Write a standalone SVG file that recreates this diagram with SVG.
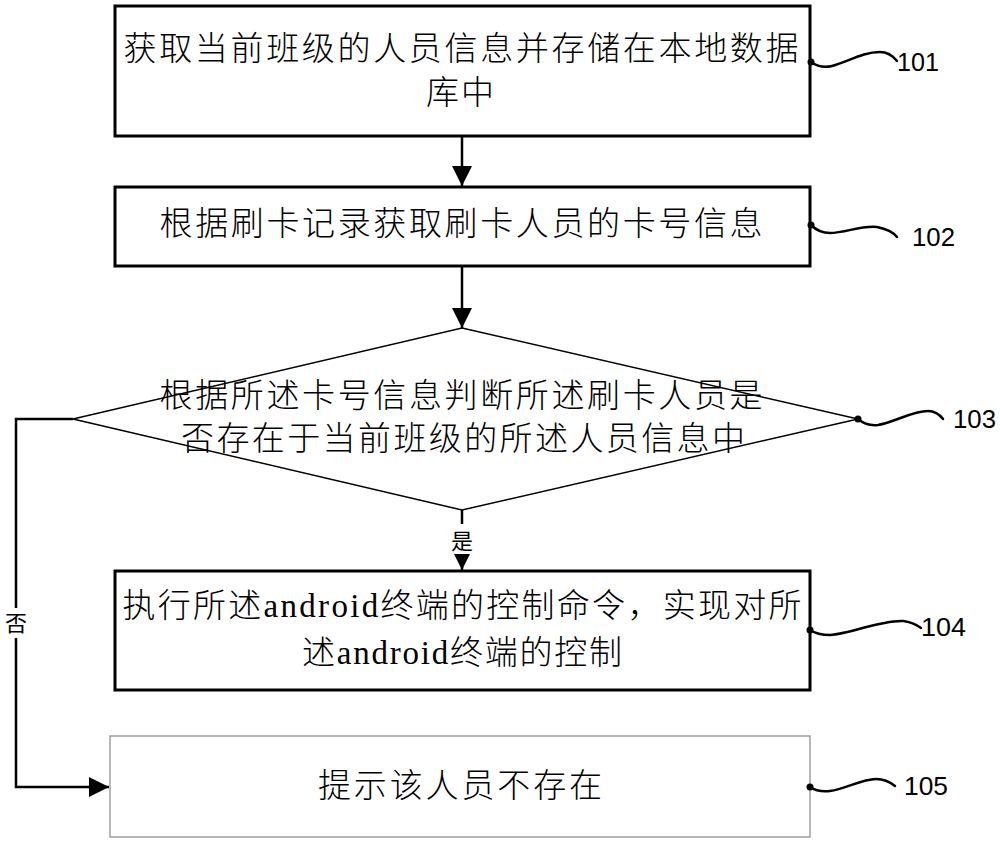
<svg xmlns="http://www.w3.org/2000/svg" width="1000" height="841" viewBox="0 0 1000 841">
<defs>
<style>
.box{fill:#fff;stroke:#000;stroke-width:3}
.box5{fill:#fff;stroke:#888;stroke-width:1.2}
.dia{fill:#fff;stroke:#000;stroke-width:1.5}
.t{font-family:"Liberation Serif","Noto Sans CJK SC",serif;font-size:33px;fill:#000;text-anchor:middle;font-weight:300}
.td{font-family:"Liberation Sans","Noto Sans CJK SC",sans-serif;font-size:33px;fill:#000;text-anchor:middle;font-weight:300}
.lbl{font-family:"Liberation Sans","Noto Sans CJK SC",sans-serif;font-size:22px;fill:#000;text-anchor:middle}
.num{font-family:"Liberation Sans",sans-serif;font-size:26px;fill:#000}
.conn{fill:none;stroke:#000;stroke-width:2.5}
.sq{fill:none;stroke:#000;stroke-width:2.5;stroke-linecap:round}
</style>
<marker id="arr" markerUnits="userSpaceOnUse" markerWidth="20" markerHeight="20" viewBox="0 0 20 20" refX="20" refY="10" orient="auto">
<path d="M0,0 L20,10 L0,20 Z" fill="#000"/>
</marker>
</defs>

<g id="connectors">
<line class="conn" x1="462" y1="137" x2="462" y2="186" marker-end="url(#arr)"/>
<line class="conn" x1="462" y1="267" x2="462" y2="328" marker-end="url(#arr)"/>
<line class="conn" x1="462" y1="510" x2="462" y2="570" marker-end="url(#arr)"/>
<rect x="450" y="524" width="24" height="30" fill="#fff"/>
<text class="lbl" x="462" y="549">是</text>
<path class="conn" d="M73,419 H16 V787 H109" marker-end="url(#arr)"/>
<rect x="4" y="608" width="24" height="30" fill="#fff"/>
<text class="lbl" x="16" y="631">否</text>
</g>

<g id="n101">
<rect class="box" x="115" y="6" width="695" height="130"/>
<text class="t" x="461" y="60" textLength="675" lengthAdjust="spacing">获取当前班级的人员信息并存储在本地数据</text>
<text class="t" x="460" y="104" textLength="68" lengthAdjust="spacing">库中</text>
<path class="sq" d="M811,62 C818,67 824,68 832,66 C848,62 862,52 880,52 C888,52 893,56 897,61"/>
<circle cx="811" cy="62" r="3.5"/>
<text class="num" x="897" y="71" textLength="42" lengthAdjust="spacingAndGlyphs">101</text>
</g>

<g id="n102">
<rect class="box" x="115" y="187" width="695" height="79"/>
<text class="t" x="461" y="235" textLength="603" lengthAdjust="spacing">根据刷卡记录获取刷卡人员的卡号信息</text>
<path class="sq" d="M811,225 C817,231 822,233 830,233 C845,233 862,225 877,227 C887,229 893,232 897,237"/>
<circle cx="811" cy="225" r="3.5"/>
<text class="num" x="912" y="246" textLength="43" lengthAdjust="spacingAndGlyphs">102</text>
</g>

<g id="n103">
<polygon class="dia" points="462,328 858,419 462,510 73,419"/>
<text class="td" x="461" y="407" textLength="603" lengthAdjust="spacing">根据所述卡号信息判断所述刷卡人员是</text>
<text class="td" x="463" y="450" textLength="564" lengthAdjust="spacing">否存在于当前班级的所述人员信息中</text>
<path class="sq" d="M858,419 C864,424 870,426 878,425 C895,422 912,411 928,411 C935,411 940,415 943,419"/>
<circle cx="858" cy="419" r="3.5"/>
<text class="num" x="953" y="428" textLength="43" lengthAdjust="spacingAndGlyphs">103</text>
</g>

<g id="n104">
<rect class="box" x="115" y="571" width="695" height="119"/>
<text class="t" x="462" y="617" textLength="679" lengthAdjust="spacing">执行所述android终端的控制命令，实现对所</text>
<text class="t" x="462" y="664" textLength="320" lengthAdjust="spacing">述android终端的控制</text>
<path class="sq" d="M810,630 C816,634 822,635 830,635 C850,634 880,620 903,621 C912,622 917,625 921,628"/>
<circle cx="810" cy="630" r="3.5"/>
<text class="num" x="921" y="636" textLength="45" lengthAdjust="spacingAndGlyphs">104</text>
</g>

<g id="n105">
<rect class="box5" x="110" y="736" width="700" height="101"/>
<text class="t" x="460" y="797" textLength="284" lengthAdjust="spacing">提示该人员不存在</text>
<path class="sq" d="M810,787 C816,791 822,792 830,791 C845,789 862,779 876,779 C884,779 890,782 895,786"/>
<circle cx="810" cy="787" r="3.5"/>
<text class="num" x="904" y="795" textLength="44" lengthAdjust="spacingAndGlyphs">105</text>
</g>
</svg>
